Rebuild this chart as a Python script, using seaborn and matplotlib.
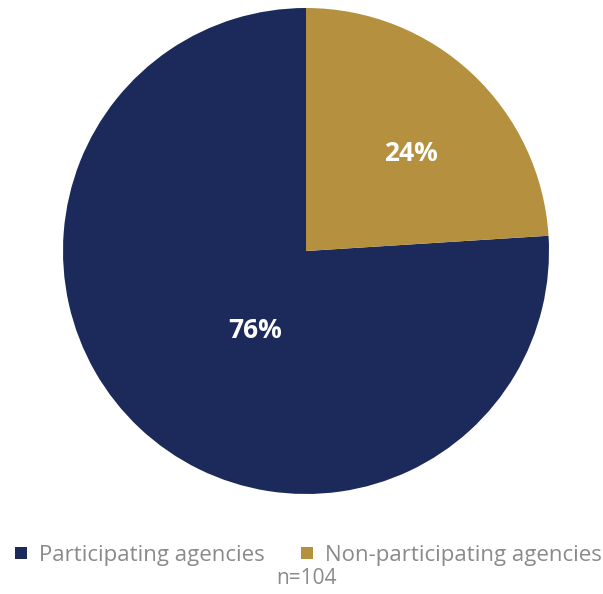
import matplotlib
matplotlib.use("Agg")
import matplotlib.pyplot as plt
import seaborn as sns
import numpy as np
from matplotlib.lines import Line2D

sns.set_theme(style="white")
plt.rcParams['font.family'] = ['Open Sans', 'DejaVu Sans']

categories = ["Participating agencies", "Non-participating agencies"]
values = [76, 24]
labels = ["76%", "24%"]
colors = ["#1b2a5a", "#b5913f"]

W, H = 603, 594
fig = plt.figure(figsize=(W / 100, H / 100), dpi=100)
cx, cy, r = 306, 251, 243
ax = fig.add_axes([(cx - r) / W, (H - cy - r) / H, 2 * r / W, 2 * r / H])

wedges, _ = ax.pie(values, colors=colors, startangle=90, counterclock=True,
                   wedgeprops=dict(linewidth=0))
label_r = [0.38, 0.60]
label_dang = [9.5, -3.0]
for w, lab, lr, da in zip(wedges, labels, label_r, label_dang):
    ang = np.deg2rad((w.theta1 + w.theta2) / 2 + da)
    ax.text(lr * np.cos(ang), lr * np.sin(ang), lab, color="white",
            fontsize=19, fontweight="bold", ha="center", va="center_baseline")
ax.set_aspect("equal")
ax.set_xlim(-1, 1)
ax.set_ylim(-1, 1)
ax.axis("off")

handles = [Line2D([], [], marker="s", linestyle="", markersize=9,
                  markerfacecolor=c, markeredgewidth=0) for c in colors]
fig.legend(handles, categories, loc="center", bbox_to_anchor=(0.507, 1 - 555 / H),
           ncol=2, frameon=False, fontsize=16, labelcolor="#8a8a8a",
           handletextpad=0.3, columnspacing=1.4, handlelength=1.0)
fig.text(cx / W, 1 - 578 / H, "n=104", ha="center", va="center",
         fontsize=15, color="#8a8a8a")

fig.savefig("out.png", dpi=100)
